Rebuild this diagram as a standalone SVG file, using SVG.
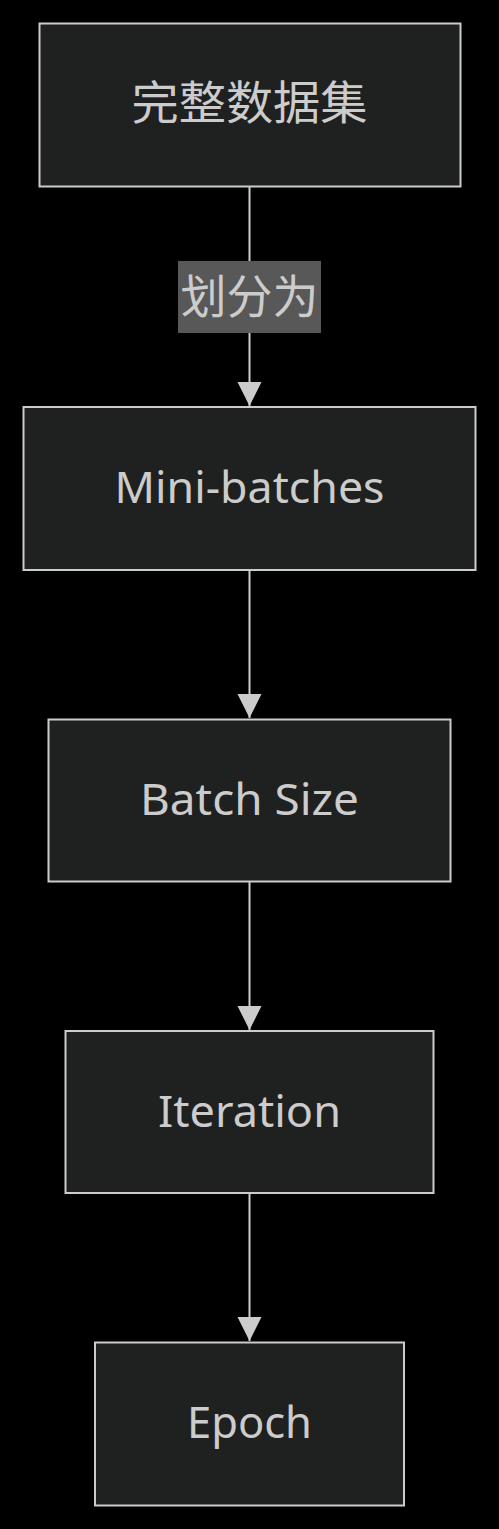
<svg xmlns="http://www.w3.org/2000/svg" width="499" height="1529" viewBox="0 0 499 1529">
<style>
.node rect{fill:#1f2020;stroke:#cccccc;stroke-width:2}
.node text{fill:#cccccc;font-family:"Noto Sans","Noto Sans CJK SC",sans-serif;font-size:44px;text-anchor:middle}
.cjk{font-family:"Noto Sans CJK SC",sans-serif !important;font-size:46px !important}
.edge{stroke:#cccccc;stroke-width:2;fill:none}
.elabel rect{fill:#585858}
.elabel text{fill:#cccccc;font-family:"Noto Sans CJK SC",sans-serif;font-size:46px;text-anchor:middle}
</style>
<defs>
<marker id="arrow" markerUnits="userSpaceOnUse" markerWidth="26" markerHeight="26" viewBox="0 0 26 26" refX="24" refY="13" orient="auto">
<path d="M0,1 L24,13 L0,25 Z" fill="#cccccc"/>
</marker>
</defs>
<rect width="499" height="1529" fill="#000000"/>
<g id="connectors">
<line class="edge" x1="249.5" y1="187" x2="249.5" y2="406" marker-end="url(#arrow)"/>
<line class="edge" x1="249.5" y1="571" x2="249.5" y2="718" marker-end="url(#arrow)"/>
<line class="edge" x1="249.5" y1="882" x2="249.5" y2="1030" marker-end="url(#arrow)"/>
<line class="edge" x1="249.5" y1="1194" x2="249.5" y2="1341" marker-end="url(#arrow)"/>
<g class="elabel" id="label-split">
<rect x="178" y="261" width="143" height="72"/>
<text x="249.5" y="313" textLength="138" lengthAdjust="spacingAndGlyphs">划分为</text>
</g>
</g>
<g id="node-dataset" class="node">
<rect x="39.5" y="23.5" width="421" height="163"/>
<text class="cjk" x="249.5" y="119" textLength="236" lengthAdjust="spacingAndGlyphs">完整数据集</text>
</g>
<g id="node-minibatches" class="node">
<rect x="23.5" y="407" width="452" height="163"/>
<text x="249.5" y="503" textLength="270" lengthAdjust="spacingAndGlyphs">Mini-batches</text>
</g>
<g id="node-batchsize" class="node">
<rect x="48.5" y="719.5" width="402" height="162"/>
<text x="249.5" y="815" textLength="219" lengthAdjust="spacingAndGlyphs">Batch Size</text>
</g>
<g id="node-iteration" class="node">
<rect x="65.5" y="1031" width="368" height="162"/>
<text x="249.5" y="1127" textLength="183" lengthAdjust="spacingAndGlyphs">Iteration</text>
</g>
<g id="node-epoch" class="node">
<rect x="95" y="1342.5" width="309" height="163"/>
<text x="249.5" y="1438" textLength="125" lengthAdjust="spacingAndGlyphs">Epoch</text>
</g>
</svg>
